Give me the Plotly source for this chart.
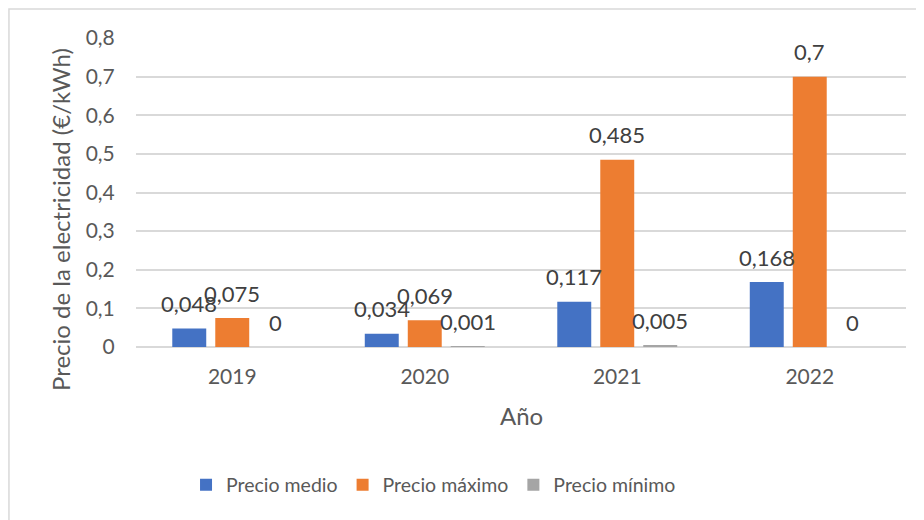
import plotly.graph_objects as go

years = ["2019", "2020", "2021", "2022"]
precio_medio = [0.048, 0.034, 0.117, 0.168]
precio_maximo = [0.075, 0.069, 0.485, 0.7]
precio_minimo = [0, 0.001, 0.005, 0]
series_names = ["Precio medio", "Precio máximo", "Precio mínimo"]
colors = ["#4472C4", "#ED7D31", "#A5A5A5"]

FONT = "Lato"
TXT = "#595959"

fig = go.Figure()
all_series = [precio_medio, precio_maximo, precio_minimo]
for name, vals, col in zip(series_names, all_series, colors):
    fig.add_trace(go.Bar(x=years, y=vals, name=name, marker_color=col,
                         marker_line_width=0))

def fmt(v):
    s = ("%g" % v)
    return s.replace(".", ",")

annotations = []
shifts = [-43, 0, 43]
for vals, sh in zip(all_series, shifts):
    for i, v in enumerate(vals):
        # x given as the category's index on the category axis
        annotations.append(dict(x=i, y=v, xref="x", yref="y", text=fmt(v),
                                showarrow=False, xshift=sh, yshift=25,
                                yanchor="middle",
                                font=dict(family=FONT, size=22, color="#404040")))

# axis titles
annotations.append(dict(x=-0.0987, y=0.411, xref="paper", yref="paper",
                        text="Precio de la electricidad (€/kWh)", textangle=-90,
                        showarrow=False, xanchor="center", yanchor="middle",
                        font=dict(family=FONT, size=24, color=TXT)))
annotations.append(dict(x=0.5, y=-0.223, xref="paper", yref="paper",
                        text="Año", showarrow=False, xanchor="center", yanchor="middle",
                        font=dict(family=FONT, size=24, color=TXT)))

fig.update_layout(
    width=916, height=512,
    margin=dict(l=128, r=18, t=30, b=173, autoexpand=False),
    paper_bgcolor="white", plot_bgcolor="white",
    separators=",.",
    barmode="group", bargap=0.33, bargroupgap=0.21,
    font=dict(family=FONT, size=20, color=TXT),
    showlegend=True,
    legend=dict(orientation="h", x=0.3864, xanchor="center", y=-0.447, yanchor="middle",
                font=dict(family=FONT, size=19.5, color=TXT), itemwidth=30,
                tracegroupgap=0, bgcolor="rgba(0,0,0,0)"),
    annotations=annotations,
    shapes=[dict(type="rect", xref="paper", yref="paper", x0=-0.165, x1=1.05,
                 y0=-0.7, y1=1.0939, line=dict(color="#D9D9D9", width=1.5),
                 fillcolor="rgba(0,0,0,0)", layer="below")],
)
fig.update_xaxes(type="category", range=[-0.5, 3.5], showgrid=False, showline=False,
                 zeroline=False, ticks="outside", ticklen=0, ticklabelstandoff=11,
                 tickfont=dict(family=FONT, size=21, color=TXT))
fig.update_yaxes(range=[0, 0.8], dtick=0.1, showgrid=True, gridcolor="#D9D9D9",
                 gridwidth=1.5, zeroline=True, zerolinecolor="#D9D9D9", zerolinewidth=1.5,
                 showline=False, ticks="outside", ticklen=0, ticklabelstandoff=16,
                 tickfont=dict(family=FONT, size=21, color=TXT))

fig.write_html("out.html")
